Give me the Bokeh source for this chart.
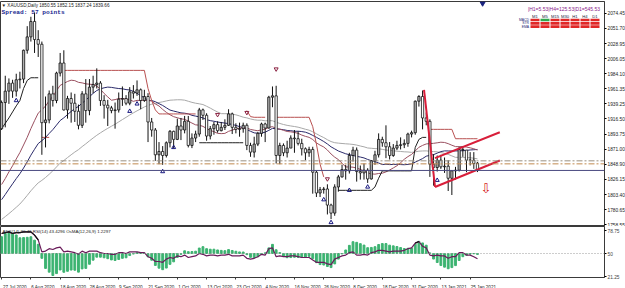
import numpy as np
import pandas as pd
from bokeh.plotting import figure
from bokeh.layouts import column
from bokeh.models import Range1d, FixedTicker, Label, ColumnDataSource, Span, NumeralTickFormatter
from bokeh.embed import file_html
from bokeh.resources import INLINE
from bokeh.core.properties import value

# ---------------- data ----------------
symbol_header = "\u25bc XAUUSD,Daily  1850.55 1852.15 1837.24 1839.66"
spread_text = "Spread: 57 points"
osc_header = "ADX(14) 30.46  RSI(14) 43.4296  OsMA(12,26,9) 1.2297"

opens = [1902, 1941, 1958, 1970, 1958, 1975, 1976, 2019, 2039, 2062, 2035, 2028, 1911, 1915, 1954, 1944, 1985, 2000, 1930, 1947,
         1940, 1928, 1907, 1954, 1929, 1964, 1968, 1970, 1944, 1937, 1933, 1929, 1930, 1946, 1947, 1940, 1957, 1955, 1960, 1944,
         1950, 1912, 1900, 1863, 1868, 1862, 1881, 1898, 1886, 1906, 1900, 1913, 1877, 1888, 1894, 1930, 1922, 1891, 1902, 1908,
         1899, 1904, 1907, 1924, 1904, 1901, 1902, 1907, 1877, 1867, 1879, 1895, 1909, 1903, 1949, 1951, 1862, 1877, 1866, 1873,
         1888, 1887, 1880, 1872, 1866, 1871, 1837, 1806, 1811, 1812, 1788, 1776, 1815, 1830, 1841, 1839, 1862, 1870, 1838, 1836,
         1840, 1827, 1854, 1863, 1886, 1881, 1875, 1862, 1873, 1877, 1878, 1880, 1894, 1896, 1943, 1950, 1918, 1913, 1849, 1844,
         1855, 1845, 1846, 1828, 1839, 1840, 1871, 1870, 1855, 1855, 1850.55]
highs = [1944, 1981, 1977, 1975, 1984, 1987, 2020, 2055, 2069, 2075, 2049, 2032, 1950, 1959, 1966, 1987, 2015, 2019, 1951, 1956,
         1954, 1938, 1958, 1976, 1976, 1981, 1992, 1973, 1952, 1945, 1936, 1941, 1956, 1965, 1952, 1964, 1967, 1974, 1962, 1960,
         1955, 1918, 1903, 1882, 1876, 1883, 1900, 1899, 1917, 1918, 1921, 1921, 1895, 1899, 1933, 1932, 1925, 1906, 1912, 1913,
         1912, 1916, 1931, 1926, 1910, 1911, 1911, 1910, 1881, 1890, 1897, 1911, 1911, 1951, 1965, 1966, 1881, 1880, 1884, 1892,
         1900, 1898, 1887, 1874, 1875, 1875, 1839, 1815, 1815, 1819, 1790, 1819, 1833, 1848, 1848, 1866, 1875, 1874, 1847, 1850,
         1843, 1855, 1869, 1895, 1890, 1907, 1882, 1879, 1884, 1889, 1886, 1896, 1899, 1944, 1952, 1959, 1926, 1916, 1864, 1862,
         1863, 1859, 1855, 1840, 1845, 1875, 1875, 1870, 1867, 1867, 1852.15]
lows = [1900, 1904, 1939, 1948, 1950, 1962, 1970, 2014, 2032, 2015, 2009, 1863, 1874, 1910, 1935, 1940, 1980, 1929, 1917, 1911,
        1912, 1901, 1903, 1911, 1922, 1955, 1962, 1936, 1917, 1906, 1925, 1902, 1926, 1936, 1937, 1937, 1947, 1951, 1931, 1942,
        1882, 1890, 1854, 1849, 1848, 1859, 1874, 1873, 1885, 1885, 1895, 1874, 1873, 1882, 1890, 1915, 1884, 1886, 1893, 1896,
        1898, 1900, 1906, 1894, 1895, 1890, 1896, 1870, 1860, 1859, 1876, 1890, 1882, 1902, 1934, 1850, 1849, 1861, 1859, 1873,
        1866, 1877, 1862, 1855, 1860, 1805, 1800, 1800, 1805, 1774, 1767, 1772, 1808, 1829, 1826, 1835, 1853, 1823, 1826, 1826,
        1821, 1826, 1848, 1859, 1875, 1858, 1856, 1860, 1870, 1871, 1873, 1875, 1889, 1893, 1935, 1901, 1907, 1830, 1817, 1838,
        1842, 1836, 1809, 1803, 1826, 1838, 1860, 1837, 1847, 1842, 1837.24]
closes = [1941, 1958, 1970, 1958, 1975, 1976, 2019, 2039, 2062, 2035, 2028, 1911, 1915, 1954, 1944, 1985, 2000, 1930, 1947, 1940,
          1928, 1907, 1954, 1929, 1964, 1968, 1970, 1944, 1937, 1933, 1929, 1930, 1946, 1947, 1940, 1957, 1955, 1960, 1944, 1950,
          1912, 1900, 1863, 1868, 1862, 1881, 1898, 1886, 1906, 1900, 1913, 1877, 1888, 1894, 1930, 1922, 1891, 1902, 1908, 1899,
          1904, 1907, 1924, 1904, 1901, 1902, 1907, 1877, 1867, 1879, 1895, 1909, 1903, 1949, 1951, 1862, 1877, 1866, 1873, 1888,
          1887, 1880, 1872, 1866, 1871, 1837, 1806, 1811, 1812, 1788, 1776, 1815, 1830, 1841, 1839, 1862, 1870, 1838, 1836, 1840,
          1827, 1854, 1863, 1886, 1881, 1875, 1862, 1873, 1877, 1878, 1880, 1894, 1896, 1943, 1950, 1918, 1913, 1849, 1844, 1855,
          1845, 1846, 1828, 1839, 1840, 1871, 1870, 1855, 1855, 1850, 1839.66]
# closes before the first visible bar (moving-average warm-up, 18 May - 24 Jul 2020)
warmup_closes = [1733, 1745, 1747, 1726, 1735, 1728, 1710, 1708, 1719, 1730, 1739, 1727, 1699, 1714, 1684, 1698, 1715, 1737,
                 1728, 1730, 1725, 1726, 1727, 1722, 1743, 1754, 1768, 1761, 1763, 1771, 1772, 1781, 1770, 1775, 1773, 1783,
                 1795, 1809, 1803, 1798, 1802, 1809, 1807, 1797, 1809, 1817, 1842, 1871, 1889, 1902]

# RSI(14) line
rsi_values = [75, 76, 77, 75, 76, 76, 77, 77, 77, 73, 67, 52, 53, 56, 55, 57, 58, 52, 53, 52,
              51, 49, 53, 51, 53, 53, 53, 51, 50, 50, 49, 49, 51, 51, 50, 52, 52, 52, 51, 51,
              46, 44, 40, 40, 39, 43, 45, 44, 47, 46, 48, 45, 46, 47, 50, 49, 47, 48, 48, 47,
              48, 48, 49, 47, 47, 47, 48, 44, 43, 44, 46, 49, 48, 56, 57, 46, 47, 46, 46, 47,
              47, 46, 45, 45, 45, 42, 39, 39, 39, 37, 36, 43, 45, 47, 48, 51, 52, 48, 48, 49,
              48, 51, 52, 54, 54, 53, 52, 53, 53, 53, 54, 56, 57, 63, 65, 59, 57, 48, 47, 48,
              47, 47, 44, 46, 46, 51, 51, 48, 48, 46, 43.4]

price_ticks = [2074.45, 2051.70, 2028.95, 2006.05, 1984.10, 1961.35, 1939.25, 1916.50, 1893.75, 1871.00,
               1848.90, 1826.15, 1803.40, 1780.65, 1758.55]
osc_ticks = [78.75, 50.0, 21.25]
date_tick_bars = [0, 8, 16, 24, 32, 40, 48, 56, 64, 72, 80, 88, 96, 104, 112, 120, 128]
date_tick_labels = ["27 Jul 2020", "6 Aug 2020", "18 Aug 2020", "28 Aug 2020", "9 Sep 2020", "21 Sep 2020",
                    "1 Oct 2020", "13 Oct 2020", "23 Oct 2020", "4 Nov 2020", "16 Nov 2020", "26 Nov 2020",
                    "8 Dec 2020", "18 Dec 2020", "31 Dec 2020", "13 Jan 2021", "25 Jan 2021"]

# trailing stop (support = black, resistance = red), bar -> price
support_stop = {0: 1902, 1: 1910, 2: 1918, 3: 1927, 4: 1936, 5: 1944, 6: 1962, 7: 1974, 8: 1978, 9: 1978, 10: 1978,
                54: 1881, 55: 1881, 56: 1881, 57: 1881, 58: 1881, 59: 1881, 60: 1881, 61: 1881, 62: 1881, 63: 1881,
                64: 1881, 65: 1881, 66: 1881,
                92: 1810, 93: 1810, 94: 1810, 95: 1810, 96: 1810, 97: 1810, 98: 1810, 99: 1810, 100: 1810, 101: 1810,
                102: 1815, 103: 1828, 104: 1839, 105: 1839, 106: 1839, 107: 1839, 108: 1839, 109: 1839, 110: 1839,
                111: 1839, 112: 1839, 113: 1874, 114: 1886, 115: 1889, 116: 1889}
resist_stop = {11: 1889, 12: 1889, 13: 1889,
               17: 1989, 18: 1989, 19: 1989, 20: 1989, 21: 1989, 22: 1989, 23: 1989, 24: 1989, 25: 1989, 26: 1989,
               27: 1989, 28: 1989, 29: 1989, 30: 1989, 31: 1989, 32: 1989, 33: 1989, 34: 1989, 35: 1989, 36: 1989,
               37: 1989, 38: 1989, 39: 1989, 40: 1962, 41: 1944, 42: 1930, 43: 1924, 44: 1924, 45: 1924, 46: 1924,
               47: 1924, 48: 1924, 49: 1924, 50: 1924, 51: 1924, 52: 1924, 53: 1924,
               67: 1929, 68: 1920, 69: 1919, 70: 1919, 71: 1919, 72: 1919,
               75: 1919, 76: 1919, 77: 1919, 78: 1919, 79: 1919, 80: 1919, 81: 1919, 82: 1919, 83: 1919, 84: 1919,
               85: 1905, 86: 1879, 87: 1849, 88: 1830,
               117: 1901, 118: 1901, 119: 1901, 120: 1901, 121: 1901, 122: 1901, 123: 1901,
               124: 1887, 125: 1887, 126: 1887, 127: 1887, 128: 1887, 129: 1887, 130: 1887}

fractal_up_bars = [4, 35, 37, 44, 47, 88, 90, 95, 100, 119]
fractal_up_prices = [1944, 1928, 1939, 1838, 1874, 1796, 1762, 1810, 1815, 1825]
fractal_dn_bars = [59, 67, 75, 89]
fractal_dn_prices = [1923, 1926, 1991, 1827]

drop_line_bars = [115.4, 118.4]
drop_line_prices = [1960, 1815]
channel_low_bars = [118.4, 136.1]
channel_low_prices = [1815, 1854.5]
channel_up_bars = [118.4, 136.1]
channel_up_prices = [1858, 1896.7]
sell_arrow_bar = [132.3]
sell_arrow_price = [1812]
object_marker_bar = [131.4]
object_marker_price = [2089]
level_prices = [1854.0, 1849.5]

dash_title = "|H1=5.53|H4=125.53|D1=545.53"
dash_timeframes = ["M1", "M5", "M15", "M30", "H1", "H4", "D1"]
dash_rows = ["MACD", "STR", "EMA"]
dash_signals = [[-1, 1, -1, -1, -1, -1, -1],
                [-1, -1, -1, -1, -1, -1, -1],
                [-1, -1, -1, -1, -1, -1, -1]]

# ---------------- indicators from the closes ----------------
n = len(closes)
bars = list(range(n))
allc = pd.Series(warmup_closes + closes, dtype=float)
w = len(warmup_closes)
sma20 = allc.rolling(20).mean().iloc[w:].to_numpy()
sma30 = allc.rolling(30).mean().iloc[w:].to_numpy()
sma50 = allc.rolling(50).mean().iloc[w:].to_numpy()
macd = allc.ewm(span=12, adjust=False).mean() - allc.ewm(span=26, adjust=False).mean()
sig = macd.rolling(9).mean()
osma = (macd - sig).iloc[w:].to_numpy()
rsi = np.array(rsi_values, dtype=float)
rsi_high = np.where(rsi >= 60, rsi, np.nan)

def to_arr(dct):
    a = np.full(n, np.nan)
    for k, v in dct.items():
        a[k] = v
    return a

FRAME_W = 604
FRAME_H = 225
SUB_H = 51
FONT = value("Liberation Sans")

xr = Range1d(-0.3, 164.7)
main = figure(frame_width=FRAME_W, frame_height=FRAME_H, x_range=xr, y_range=Range1d(1756.0, 2091.8),
              output_backend="svg", toolbar_location=None, x_axis_location=None, y_axis_location="right",
              min_border_left=0, min_border_right=21, min_border_top=1, min_border_bottom=0,
              background_fill_color="white", border_fill_color="white", outline_line_color="#3a3a3a")
main.grid.visible = False
main.extra_x_ranges = {"px": Range1d(0, FRAME_W), "dash": Range1d(-53.45, 6.95)}
main.extra_y_ranges = {"px": Range1d(FRAME_H, 0), "dash": Range1d(-61.64, 5.52)}

ya = main.yaxis[0]
ya.ticker = FixedTicker(ticks=price_ticks)
ya.formatter = NumeralTickFormatter(format="0.00")
ya.major_label_text_font_size = "4.8px"
ya.major_label_text_font = "Liberation Sans"
ya.major_label_text_color = "#222222"
ya.major_label_standoff = 1
ya.major_tick_out = 2
ya.major_tick_in = 0
ya.minor_tick_line_color = None
ya.axis_line_color = "#3a3a3a"

# horizontal levels
for lvl, col in zip(level_prices, ["#9a9080", "#c08a50"]):
    main.add_layout(Span(location=lvl, dimension="width", line_color=col, line_dash="6 2 2 2", line_width=1))
main.add_layout(Span(location=closes[-1], dimension="width", line_color="#4a4a80", line_width=1))

# moving averages
main.line(bars, sma50, line_color="#a8a8a8", line_width=1)
main.line(bars, sma30, line_color="#2a2a6a", line_width=1)
main.line(bars, sma20, line_color="#9a5060", line_width=1)

# trailing stops
main.line(bars, to_arr(resist_stop), line_color="#b85050", line_width=1)
main.line(bars, to_arr(support_stop), line_color="#202020", line_width=1)

# candles
top = [max(o, c) for o, c in zip(opens, closes)]
bot = [min(o, c) for o, c in zip(opens, closes)]
fill = ["#b0b0b0" if c >= o else "#ffffff" for o, c in zip(opens, closes)]
src = ColumnDataSource(dict(x=bars, h=highs, l=lows, top=top, bot=bot, fill=fill))
main.segment(x0="x", y0="h", x1="x", y1="l", line_color="#111111", line_width=1, source=src)
main.vbar(x="x", width=0.62, top="top", bottom="bot", fill_color="fill", line_color="#111111",
          line_width=0.8, source=src)

# fractals
main.scatter(fractal_up_bars, fractal_up_prices, marker="triangle", size=4, fill_color=None,
             line_color="#1a1a80", line_width=1)
main.scatter(fractal_dn_bars, fractal_dn_prices, marker="inverted_triangle", size=4, fill_color=None,
             line_color="#8a2040", line_width=1)

# pattern lines
for xs, ys in [(drop_line_bars, drop_line_prices), (channel_low_bars, channel_low_prices),
               (channel_up_bars, channel_up_prices)]:
    main.line(xs, ys, line_color="#d81e3a", line_width=2)
main.text(sell_arrow_bar, sell_arrow_price, text=["\u21e9"], text_font=value("DejaVu Sans"),
          text_font_size="13px", text_color="#d42020", text_align="center", text_baseline="middle")
main.scatter(object_marker_bar, object_marker_price, marker="inverted_triangle", size=5,
             color="#1a237e")

# header texts
main.text([1], [4], text=[symbol_header], x_range_name="px", y_range_name="px", text_font=FONT,
          text_font_size="4.6px", text_color="#222222", text_baseline="middle")
main.text([1], [10.5], text=[spread_text], x_range_name="px", y_range_name="px",
          text_font=value("Liberation Mono"), text_font_style="bold", text_font_size="6.2px",
          text_color="#202890", text_baseline="middle")

# dashboard
cx, cy, cc = [], [], []
for r, row in enumerate(dash_signals):
    for c, s in enumerate(row):
        cx.append(c)
        cy.append(-r)
        cc.append("#2fa84f" if s > 0 else "#e02828")
main.rect(cx, cy, width=0.9, height=0.8, fill_color=cc, line_color=None,
          x_range_name="dash", y_range_name="dash")
main.text([2.9], [3.2], text=[dash_title], x_range_name="dash", y_range_name="dash", text_font=FONT,
          text_font_size="5px", text_color="#8a1a8a", text_align="center", text_baseline="middle")
main.text(list(range(len(dash_timeframes))), [1.1] * len(dash_timeframes), text=dash_timeframes,
          x_range_name="dash", y_range_name="dash", text_font=FONT, text_font_size="4.2px",
          text_color="#222244", text_align="center", text_baseline="middle")
main.text([-0.6] * len(dash_rows), [-r for r in range(len(dash_rows))], text=dash_rows,
          x_range_name="dash", y_range_name="dash", text_font=FONT, text_font_size="3.4px",
          text_color="#1a1a70", text_align="right", text_baseline="middle")

main.add_layout(Label(x=xr.end, y=closes[-1], text="%.2f" % closes[-1], text_font="Liberation Sans",
                      text_font_size="4.8px", text_color="white", background_fill_color="black",
                      text_baseline="middle", x_offset=1))

# ---------------- oscillator pane ----------------
sub = figure(frame_width=FRAME_W, frame_height=SUB_H, x_range=xr, y_range=Range1d(20.0, 83.75),
             output_backend="svg", toolbar_location=None, y_axis_location="right",
             min_border_left=0, min_border_right=21, min_border_top=0, min_border_bottom=11,
             background_fill_color="white", border_fill_color="white", outline_line_color="#3a3a3a")
sub.grid.visible = False
k = np.nanmax(np.abs(osma)) / 27.5
sub.extra_y_ranges = {"osma": Range1d(-(50 - 20.0) * k, (83.75 - 50) * k),
                      "px": Range1d(SUB_H, 0)}
sub.extra_x_ranges = {"px": Range1d(0, FRAME_W)}
sub.add_layout(Span(location=50, dimension="width", line_color="#9a9a9a", line_dash="1 2", line_width=1))
sub.vbar(x=bars, top=osma, bottom=0, width=0.5, color="#3cb371", y_range_name="osma")
sub.line(bars, rsi, line_color="#6a1b5a", line_width=1.2)
sub.line(bars, rsi_high, line_color="#111111", line_width=1.2)
sub.text([2], [4.5], text=[osc_header], x_range_name="px", y_range_name="px", text_font=FONT,
         text_font_size="4.4px", text_color="#222222", text_baseline="middle")

sy = sub.yaxis[0]
sy.ticker = FixedTicker(ticks=osc_ticks)
sy.major_label_overrides = {t: ("%g" % t if t == 50 else "%.2f" % t) for t in osc_ticks}
sy.major_label_text_font_size = "4.8px"
sy.major_label_text_font = "Liberation Sans"
sy.major_label_standoff = 1
sy.major_tick_out = 2
sy.major_tick_in = 0
sy.minor_tick_line_color = None
sy.axis_line_color = "#3a3a3a"

label_centres = [round(b + len(t) * 1.1 / 3.66 + 0.3, 3) for b, t in zip(date_tick_bars, date_tick_labels)]
sx = sub.xaxis[0]
sx.ticker = FixedTicker(ticks=label_centres, minor_ticks=date_tick_bars)
sx.major_label_overrides = {c: t for c, t in zip(label_centres, date_tick_labels)}
sx.major_label_text_font_size = "4.6px"
sx.major_label_text_font = "Liberation Sans"
sx.major_label_text_color = "#222222"
sx.major_label_standoff = 1
sx.major_tick_line_color = None
sx.minor_tick_out = 2
sx.minor_tick_in = 0
sx.minor_tick_line_color = "#3a3a3a"
sx.axis_line_color = None

layout = column(main, sub, spacing=0)
open("out.html", "w").write(file_html(layout, INLINE))
